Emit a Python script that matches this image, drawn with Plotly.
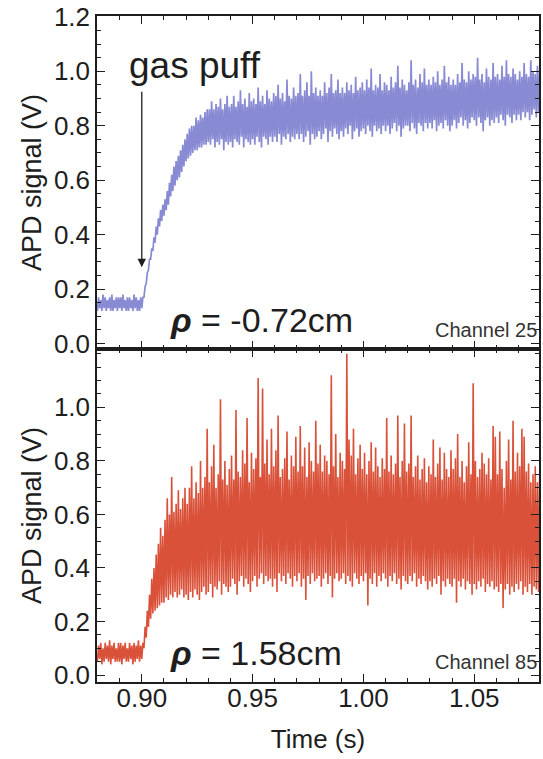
import numpy as np
import plotly.graph_objects as go
from plotly.subplots import make_subplots

# sampling grid (s)
t_start = 0.880
dt = 0.001

# ---- Channel 25 (rho = -0.72 cm), lower/upper extremes per 1 ms
blue_lo = [
    .12, .13, .12, .13, .12, .13, .12, .12, .13, .12,
    .13, .12, .13, .12, .12, .13, .12, .13, .12, .12,
    .13, .17, .22, .27, .31, .34, .37, .40, .43, .45,
    .47, .49, .51, .54, .56, .58, .60, .61, .63, .65,
    .67, .68, .69, .70, .71, .71, .72, .72, .73, .73,
    .74, .73, .75, .72, .74, .73, .75, .71, .74, .73,
    .74, .72, .75, .74, .73, .76, .72, .75, .74, .73,
    .75, .73, .76, .74, .72, .76, .75, .73, .76, .74,
    .76, .74, .77, .73, .76, .75, .77, .74, .76, .75,
    .77, .75, .77, .74, .76, .78, .73, .77, .75, .76,
    .78, .75, .77, .79, .74, .78, .76, .79, .77, .75,
    .78, .76, .79, .77, .80, .75, .78, .79, .76, .78,
    .79, .77, .80, .78, .76, .80, .78, .79, .77, .80,
    .78, .80, .77, .79, .81, .78, .80, .76, .79, .80,
    .80, .78, .81, .79, .77, .81, .80, .78, .81, .79,
    .81, .79, .82, .78, .80, .81, .79, .82, .80, .78,
    .80, .82, .79, .81, .83, .80, .82, .79, .81, .83,
    .82, .80, .83, .81, .78, .82, .83, .80, .82, .81,
    .83, .81, .84, .82, .80, .84, .83, .81, .84, .82,
    .84, .82, .85, .83, .85, .82, .84, .86, .83, .85,
    .84,
]
blue_hi = [
    .17, .16, .18, .17, .16, .17, .18, .16, .17, .17,
    .17, .18, .16, .17, .17, .16, .18, .17, .16, .17,
    .17, .21, .26, .31, .35, .39, .43, .46, .49, .51,
    .53, .56, .59, .62, .65, .67, .69, .71, .73, .75,
    .77, .79, .80, .80, .83, .82, .84, .83, .85, .86,
    .86, .89, .86, .88, .87, .90, .86, .88, .91, .87,
    .88, .91, .87, .89, .93, .88, .90, .87, .92, .89,
    .90, .88, .94, .89, .91, .88, .93, .90, .89, .92,
    .91, .95, .90, .92, .89, .97, .91, .90, .94, .91,
    .92, .99, .91, .93, .96, .91, 1.00, .92, .94, .91,
    .93, .91, .96, .92, .94, .99, .92, .93, .97, .92,
    .94, .92, .96, .93, .95, .92, .98, .93, .94, .96,
    .93, .97, .94, 1.01, .93, .95, .94, .99, .93, .96,
    .95, .93, .98, .94, .96, 1.02, .94, .97, .95, .93,
    .96, 1.04, .95, .97, .94, .99, .96, 1.01, .95, .97,
    .95, .98, .96, 1.00, .95, .97, 1.02, .96, .98, .95,
    .97, .95, .99, .96, 1.03, .97, .96, 1.00, .97, .99,
    .98, 1.05, .97, .99, .96, 1.01, .98, .97, 1.03, .98,
    .99, .97, 1.02, .98, 1.04, .99, .98, 1.01, .99, .97,
    1.00, .98, 1.03, .99, .98, 1.04, 1.00, .99, 1.02, 1.00,
    .99,
]

# ---- Channel 85 (rho = 1.58 cm)
red_lo = [
    .05, .06, .04, .05, .06, .05, .04, .06, .05, .05,
    .05, .04, .06, .05, .05, .06, .04, .05, .06, .05,
    .06, .10, .14, .18, .21, .23, .24, .25, .26, .27,
    .27, .29, .28, .30, .29, .31, .29, .30, .32, .29,
    .30, .28, .31, .29, .32, .30, .28, .31, .33, .30,
    .31, .34, .29, .33, .32, .35, .30, .34, .33, .31,
    .33, .36, .34, .30, .35, .37, .33, .36, .34, .31,
    .35, .37, .33, .36, .38, .34, .37, .35, .36, .33,
    .36, .31, .38, .35, .37, .34, .38, .36, .33, .37,
    .35, .38, .33, .36, .28, .37, .34, .38, .35, .36,
    .37, .33, .36, .38, .34, .37, .29, .36, .38, .35,
    .36, .38, .34, .37, .35, .33, .38, .36, .34, .37,
    .35, .38, .26, .36, .34, .38, .33, .37, .35, .38,
    .36, .33, .37, .35, .38, .34, .36, .32, .37, .35,
    .34, .37, .35, .38, .33, .36, .34, .37, .35, .32,
    .35, .33, .36, .34, .37, .30, .35, .33, .36, .34,
    .33, .36, .27, .35, .33, .36, .32, .35, .34, .30,
    .34, .32, .35, .33, .36, .31, .34, .33, .35, .32,
    .33, .31, .34, .25, .32, .34, .30, .33, .31, .34,
    .32, .35, .30, .33, .31, .34, .30, .33, .32, .31,
    .33,
]
red_hi = [
    .11, .12, .10, .12, .11, .13, .11, .12, .10, .12,
    .12, .11, .12, .10, .12, .11, .12, .11, .13, .11,
    .12, .18, .24, .30, .36, .40, .45, .49, .55, .52,
    .58, .66, .60, .74, .61, .64, .69, .62, .66, .70,
    .64, .70, .78, .66, .72, .68, .80, .70, .74, .92,
    .72, .78, .86, .70, .75, 1.03, .73, .80, .71, .77,
    .82, .73, .99, .76, .74, .84, .79, .96, .72, .83,
    .77, .81, 1.11, .74, 1.07, .79, .88, .75, .92, .78,
    .84, .97, .74, .77, .81, .91, .73, .82, .78, .89,
    .76, .93, .78, .85, .74, .87, .80, .76, .95, .79,
    .86, .76, .82, .80, .75, 1.12, .78, .90, .74, .83,
    .80, .77, 1.20, .88, .82, .92, .75, .81, .86, .77,
    .83, .75, .80, .87, .76, .85, .78, .74, .81, .77,
    .96, .76, .82, .75, .79, .97, .74, .80, .94, .76,
    .79, .97, .74, .78, .82, .73, .77, .81, .72, .78,
    .75, .88, .74, .79, .85, .73, .83, .77, .74, .84,
    .77, .81, .90, .74, .80, .72, .78, .87, .75, 1.09,
    .80, .74, .77, .83, .79, .75, .81, .73, .93, .89,
    .75, .91, .77, .70, .80, .88, .73, .95, .76, .83,
    .78, .92, .89, .76, .79, .72, .75, .78, .72, .75,
    .76,
]

rho_labels = ["<b><i>ρ</i></b> = -0.72cm", "<b><i>ρ</i></b> = 1.58cm"]
channel_labels = ["Channel 25", "Channel 85"]
x_ticks = [0.90, 0.95, 1.00, 1.05]
y_ticks_top = [0.0, 0.2, 0.4, 0.6, 0.8, 1.0, 1.2]
y_ticks_bot = [0.0, 0.2, 0.4, 0.6, 0.8, 1.0]


def zigzag(lo, hi):
    n = min(len(lo), len(hi))
    xs, ys = [], []
    for i in range(n):
        ti = t_start + i * dt
        xs += [ti, ti + dt / 2]
        ys += [lo[i], hi[i]]
    return xs, ys


FONT = "Liberation Sans, Arial, sans-serif"
INK = "#1e1e1e"

fig = make_subplots(rows=2, cols=1, shared_xaxes=True, vertical_spacing=0)

bx, by = zigzag(blue_lo, blue_hi)
rx, ry = zigzag(red_lo, red_hi)
fig.add_trace(go.Scatter(x=bx, y=by, mode="lines",
                         line=dict(color="rgba(115,117,205,0.85)", width=1.7),
                         showlegend=False, hoverinfo="skip"), row=1, col=1)
fig.add_trace(go.Scatter(x=rx, y=ry, mode="lines",
                         line=dict(color="rgba(214,62,36,0.9)", width=1.6),
                         showlegend=False, hoverinfo="skip"), row=2, col=1)

xr = [0.8798, 1.0792]
common_x = dict(range=xr, tickvals=x_ticks, ticks="inside", ticklen=8, tickwidth=1.3,
                tickcolor=INK, showline=True, linecolor=INK, linewidth=1.5,
                mirror="allticks", showgrid=False, zeroline=False,
                minor=dict(dtick=0.01, tick0=0.88, ticks="inside", ticklen=4,
                           tickwidth=1, tickcolor=INK),
                tickfont=dict(family=FONT, size=26, color=INK))
fig.update_xaxes(**common_x, showticklabels=False, row=1, col=1)
fig.update_xaxes(**common_x, showticklabels=True, tickformat=".2f",
                 ticklabelstandoff=-8,
                 title=dict(text="Time (s)", font=dict(family=FONT, size=26, color=INK),
                            standoff=18),
                 row=2, col=1)

common_y = dict(ticks="inside", ticklen=8, tickwidth=1.3, tickcolor=INK,
                showline=True, linecolor=INK, linewidth=1.5, mirror="allticks",
                showgrid=False, zeroline=False, tickformat=".1f",
                ticklabeloverflow="allow",
                minor=dict(dtick=0.05, tick0=0, ticks="inside", ticklen=4,
                           tickwidth=1, tickcolor=INK),
                tickfont=dict(family=FONT, size=26, color=INK),
                title=dict(text="APD signal (V)",
                           font=dict(family=FONT, size=27, color=INK), standoff=4))
fig.update_yaxes(**common_y, range=[-0.02, 1.203], tickvals=y_ticks_top, row=1, col=1)
fig.update_yaxes(**common_y, range=[-0.026, 1.218], tickvals=y_ticks_bot, row=2, col=1)

# gas puff label and arrow
fig.add_annotation(x=0.924, y=1.02, xref="x", yref="y", text="gas puff",
                   showarrow=False, font=dict(family=FONT, size=37, color=INK))
fig.add_annotation(x=0.90, y=0.28, ax=0.90, ay=0.93, xref="x", yref="y",
                   axref="x", ayref="y", text="", showarrow=True,
                   arrowhead=2, arrowsize=1.3, arrowwidth=1.3, arrowcolor=INK)

for i, (yref, ylab) in enumerate([("y", 0.087), ("y2", 0.081)]):
    fig.add_annotation(x=0.9117, y=ylab, xref="x" if i == 0 else "x2", yref=yref,
                       text=rho_labels[i], showarrow=False, xanchor="left",
                       font=dict(family=FONT, size=34, color=INK))
    fig.add_annotation(x=1.0, y=0.05 if i == 0 else 0.048, xref="paper", yref=yref,
                       text=channel_labels[i], showarrow=False, xanchor="right",
                       font=dict(family=FONT, size=20, color="#333333"))

fig.update_layout(width=543, height=759, margin=dict(l=97, r=2, t=11, b=77),
                  plot_bgcolor="white", paper_bgcolor="white")

fig.write_html("out.html")
